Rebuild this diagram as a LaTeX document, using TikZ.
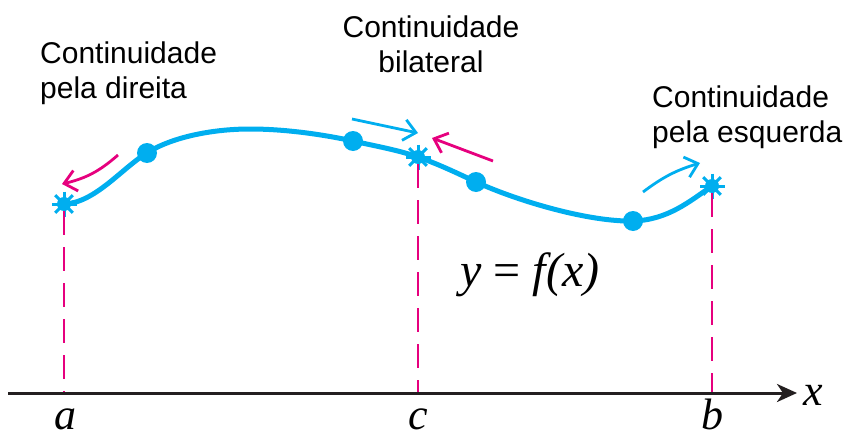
\documentclass[tikz,border=0pt]{standalone}
\usepackage{fontspec}
\setmainfont{Liberation Sans}
\newfontfamily\timesfont{Liberation Serif}
\usetikzlibrary{positioning,arrows.meta}
\definecolor{curveblue}{HTML}{00AEEF}
\definecolor{limitpink}{HTML}{E6007E}
\definecolor{axisgray}{HTML}{231F20}

\begin{document}
\begin{tikzpicture}[x=1pt, y=-1pt,
  every node/.style={font=\fontsize{30}{35}\selectfont},
  dot/.style={circle, fill=curveblue, minimum size=20pt, inner sep=0pt},
  spark/.style={circle, fill=curveblue, minimum size=14pt, inner sep=0pt},
  spoke/.style={curveblue, line width=3pt},
  curve/.style={curveblue, line width=5pt},
  guide/.style={limitpink, line width=2.5pt, dash pattern=on 24pt off 12pt},
  hint/.style={line width=2.8pt, -{Straight Barb[length=12pt,width=21pt,line width=2.8pt]}},
  axis/.style={axisgray, line width=3pt, -{Stealth[length=20pt,width=18pt,inset=6pt]}},
  caption/.style={inner sep=0pt},
  lbl/.style={font=\fontsize{44}{46}\timesfont\itshape, inner sep=0pt, anchor=base}
]
\useasboundingbox (0,0) rectangle (849,439);

% points on the graph
\node[spark] (sa) at (64,204)  {};
\node[dot]   (d1) at (147,153) {};
\node[dot]   (d2) at (353,141) {};
\node[spark] (sc) at (418,157) {};
\node[dot]   (d3) at (476,182) {};
\node[dot]   (d4) at (633,221) {};
\node[spark] (sb) at (712,186) {};
\coordinate (crest) at (250,129);

\draw[curve] (sa.center) .. controls (95,203) and (122,168) .. (d1.center)
  .. controls (170,138) and (210,129) .. (crest)
  .. controls (290,129) and (330,136) .. (d2.center)
  .. controls (375,146) and (398,150) .. (sc.center)
  .. controls (438,164) and (457,173) .. (d3.center)
  .. controls (520,202) and (590,222) .. (d4.center)
  .. controls (668,220) and (690,201) .. (sb.center);
\foreach \p in {sa,sc,sb}
  \foreach \ang in {0,45,90,135}
    \draw[spoke] ([shift={(\ang:12.5pt)}]\p.center) -- ([shift={(\ang+180:12.5pt)}]\p.center);

% axis and guides
\coordinate (xs) at (8,393);
\coordinate (xe) at (797,393);
\coordinate (ta) at (64,393);
\coordinate (tc) at (418,393);
\coordinate (tb) at (712,393);
\draw[guide] (sa.south) -- (ta);
\draw[guide] (sc.south) -- (tc);
\draw[guide] (sb.south) -- (tb);
\draw[axis] (xs) -- (xe);

\node[lbl] (la) at (65,429)  {a};
\node[lbl] (lc) at (418,429) {c};
\node[lbl] (lb) at (712,429) {b};
\node[lbl] (lx) at (813,405) {x};
\node[lbl, font=\fontsize{48}{50}\timesfont\itshape] (eq) at (530,286)
  {y\hspace{12pt}{\upshape=}\hspace{12pt}f(x)};

% one-sided limit hints
\coordinate (p1s) at (118,155);
\coordinate (p1e) at (62,184);
\coordinate (b2s) at (352,119);
\coordinate (b2e) at (418,133);
\coordinate (p2s) at (493,161);
\coordinate (p2e) at (432,138);
\coordinate (b3s) at (643,192);
\coordinate (b3e) at (700,163);
\draw[hint, limitpink] (p1s) to[bend left=14] (p1e);
\draw[hint, curveblue] (b2s) -- (b2e);
\draw[hint, limitpink] (p2s) -- (p2e);
\draw[hint, curveblue] (b3s) to[bend left=10] (b3e);

% captions
\node[caption, align=left, anchor=north west] (capa) at (40,42)
  {Continuidade\\pela direita};
\node[caption, align=center, anchor=north] (capc) at (431,16)
  {Continuidade\\bilateral};
\node[caption, align=left, anchor=north west] (capb) at (652,86)
  {Continuidade\\pela esquerda};
\end{tikzpicture}
\end{document}
